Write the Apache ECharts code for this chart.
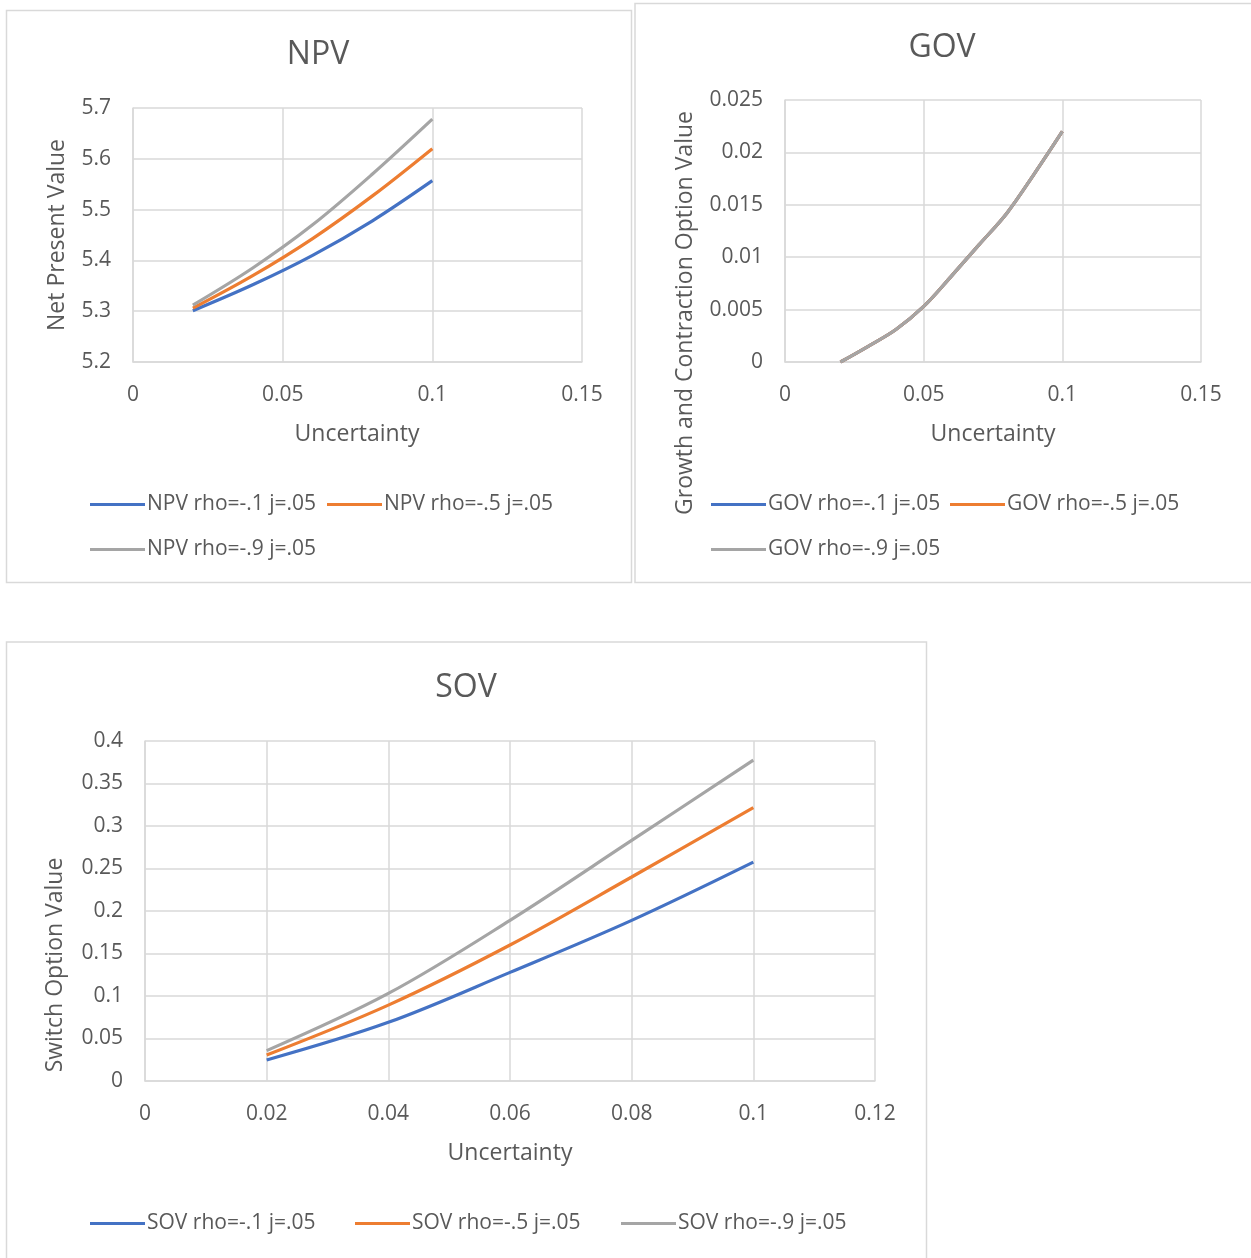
<!DOCTYPE html>
<html lang="en">
<head>
    <meta charset="UTF-8">
    <title>NPV GOV SOV</title>
    <style>
        html, body { margin: 0; padding: 0; background: #fff; }
        #main { width: 1251px; height: 1258px; }
    </style>
</head>
<body>
    <div id="main"></div>
    <script src="https://cdn.jsdelivr.net/npm/echarts@6/dist/echarts.min.js"></script>
    <script>
        // uncertainty values on the x axis
        const uncert = [0.02, 0.04, 0.06, 0.08, 0.1];
        const uncertGov = [0.02, 0.03, 0.04, 0.05, 0.06, 0.07, 0.08, 0.09, 0.1];

        // NPV
        const npvRho1 = [5.301, 5.352, 5.410, 5.478, 5.557];
        const npvRho5 = [5.306, 5.370, 5.443, 5.527, 5.620];
        const npvRho9 = [5.312, 5.385, 5.470, 5.570, 5.678];

        // GOV (all three curves coincide)
        const govRho1 = [0, 0.0015, 0.0031, 0.0053, 0.0082, 0.0112, 0.0142, 0.0180, 0.0220];
        const govRho5 = [0, 0.0015, 0.0031, 0.0053, 0.0082, 0.0112, 0.0142, 0.0180, 0.0220];
        const govRho9 = [0, 0.0015, 0.0031, 0.0053, 0.0082, 0.0112, 0.0142, 0.0180, 0.0220];

        // SOV
        const sovRho1 = [0.0247, 0.0690, 0.1278, 0.1890, 0.2575];
        const sovRho5 = [0.0306, 0.0893, 0.1600, 0.2400, 0.3215];
        const sovRho9 = [0.0357, 0.1030, 0.1890, 0.2830, 0.3775];

        const npvNames = ['NPV rho=-.1 j=.05', 'NPV rho=-.5 j=.05', 'NPV rho=-.9 j=.05'];
        const govNames = ['GOV rho=-.1 j=.05', 'GOV rho=-.5 j=.05', 'GOV rho=-.9 j=.05'];
        const sovNames = ['SOV rho=-.1 j=.05', 'SOV rho=-.5 j=.05', 'SOV rho=-.9 j=.05'];

        const colors = ['#4472C4', '#ED7D31', '#A5A5A5'];
        const txt = '#595959';
        const grid = '#d9d9d9';
        const font = 'Open Sans';

        const pairs = (xs, ys) => xs.map((x, i) => [x, ys[i]]);
        const fmt = v => String(+v.toFixed(4));

        function xAx(gi, max, step) {
            return {
                type: 'value', gridIndex: gi, min: 0, max: max, interval: step,
                axisLine: { show: true, lineStyle: { color: grid, width: 1.5 } },
                axisTick: { show: false },
                splitLine: { lineStyle: { color: grid, width: 1.5 } },
                axisLabel: { color: txt, fontSize: 21, fontFamily: font, margin: 23, formatter: fmt }
            };
        }
        function yAx(gi, min, max, step) {
            return {
                type: 'value', gridIndex: gi, min: min, max: max, interval: step,
                axisLine: { show: true, lineStyle: { color: grid, width: 1.5 } },
                axisTick: { show: false },
                splitLine: { lineStyle: { color: grid, width: 1.5 } },
                axisLabel: { color: txt, fontSize: 21, fontFamily: font, margin: 22, formatter: fmt }
            };
        }
        function line(name, gi, xs, ys, c) {
            return {
                type: 'line', name: name, xAxisIndex: gi, yAxisIndex: gi,
                data: pairs(xs, ys), smooth: 0.35, showSymbol: false,
                lineStyle: { color: c, width: 3.2 }, itemStyle: { color: c },
                emphasis: { disabled: true }
            };
        }
        function leg(name, left, top) {
            return {
                data: [name], left: left, top: top, icon: 'rect',
                itemWidth: 55, itemHeight: 3, padding: 0,
                textStyle: { color: txt, fontSize: 21, fontFamily: font, padding: [0, 0, 0, -3] }
            };
        }
        function label(text, x, y, size, rot) {
            return {
                type: 'text', x: x, y: y, rotation: rot || 0,
                style: { text: text, fill: txt, fontSize: size, fontFamily: font,
                    textAlign: 'center', textVerticalAlign: 'middle' }
            };
        }
        function frame(x, y, w, h) {
            return {
                type: 'rect', shape: { x: x, y: y, width: w, height: h },
                style: { fill: 'none', stroke: grid, lineWidth: 1.5 }, z: -1
            };
        }

        const myChart = echarts.init(document.getElementById('main'));
        myChart.setOption({
            animation: false,
            grid: [
                { left: 133, top: 108, width: 449, height: 254 },
                { left: 785, top: 100, width: 416, height: 262 },
                { left: 145, top: 741, width: 730, height: 340 }
            ],
            xAxis: [xAx(0, 0.15, 0.05), xAx(1, 0.15, 0.05), xAx(2, 0.12, 0.02)],
            yAxis: [yAx(0, 5.2, 5.7, 0.1), yAx(1, 0, 0.025, 0.005), yAx(2, 0, 0.4, 0.05)],
            legend: [
                leg(npvNames[0], 90, 494), leg(npvNames[1], 327, 494), leg(npvNames[2], 90, 539),
                leg(govNames[0], 711, 494), leg(govNames[1], 950, 494), leg(govNames[2], 711, 539),
                leg(sovNames[0], 90, 1213), leg(sovNames[1], 355, 1213), leg(sovNames[2], 621, 1213)
            ],
            series: [
                line(npvNames[0], 0, uncert, npvRho1, colors[0]),
                line(npvNames[1], 0, uncert, npvRho5, colors[1]),
                line(npvNames[2], 0, uncert, npvRho9, colors[2]),
                line(govNames[0], 1, uncertGov, govRho1, colors[0]),
                line(govNames[1], 1, uncertGov, govRho5, colors[1]),
                line(govNames[2], 1, uncertGov, govRho9, colors[2]),
                line(sovNames[0], 2, uncert, sovRho1, colors[0]),
                line(sovNames[1], 2, uncert, sovRho5, colors[1]),
                line(sovNames[2], 2, uncert, sovRho9, colors[2])
            ],
            graphic: [
                frame(6.5, 10.5, 625, 572),
                frame(635, 3.5, 630, 579),
                frame(6.5, 642, 920, 630),
                label('NPV', 318, 55, 32),
                label('GOV', 942, 48, 32),
                label('SOV', 466, 688, 32),
                label('Net Present Value', 57, 235, 23, Math.PI / 2),
                label('Uncertainty', 357, 434, 23),
                label('Growth and Contraction Option Value', 685, 313, 23, Math.PI / 2),
                label('Uncertainty', 993, 434, 23),
                label('Switch Option Value', 55, 965, 23, Math.PI / 2),
                label('Uncertainty', 510, 1153, 23)
            ]
        });
    </script>
</body>
</html>
